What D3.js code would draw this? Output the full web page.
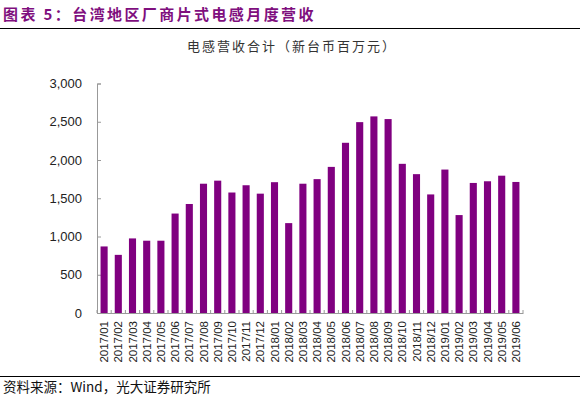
<!DOCTYPE html>
<html>
<head>
<meta charset="utf-8">
<script src="https://cdn.jsdelivr.net/npm/d3@7"></script>
<style>
  body { margin: 0; background: #fff; }
  svg { display: block; }
</style>
</head>
<body>
<div id="chart"></div>
<script>
const months = ["2017/01","2017/02","2017/03","2017/04","2017/05","2017/06","2017/07","2017/08","2017/09","2017/10","2017/11","2017/12",
  "2018/01","2018/02","2018/03","2018/04","2018/05","2018/06","2018/07","2018/08","2018/09","2018/10","2018/11","2018/12",
  "2019/01","2019/02","2019/03","2019/04","2019/05","2019/06"];
const revenue = [870, 760, 975, 945, 945, 1300, 1425, 1690, 1730, 1575, 1670, 1560,
  1710, 1175, 1690, 1750, 1910, 2225, 2495, 2570, 2535, 1950, 1815, 1550,
  1875, 1280, 1700, 1722, 1795, 1713];
const yTicks = [0, 500, 1000, 1500, 2000, 2500, 3000];

const W = 580, H = 399;
const margin = {top: 83.5, right: 57, bottom: 86, left: 97};
const width = W - margin.left - margin.right;
const height = H - margin.top - margin.bottom;

const svg = d3.select("#chart").append("svg")
  .attr("width", W)
  .attr("height", H);

// header
svg.append("text")
  .attr("x", 3).attr("y", 20)
  .attr("fill", "#7f0f7e")
  .attr("font-family", "Noto Sans CJK SC")
  .attr("font-weight", "bold")
  .attr("font-size", 15)
  .attr("letter-spacing", 2.4)
  .text("图表 5：台湾地区厂商片式电感月度营收");

svg.append("line")
  .attr("x1", 0).attr("x2", W)
  .attr("y1", 28.5).attr("y2", 28.5)
  .attr("stroke", "#000").attr("stroke-width", 1.2);

svg.append("text")
  .attr("x", 292).attr("y", 51)
  .attr("text-anchor", "middle")
  .attr("fill", "#333")
  .attr("font-family", "Noto Sans CJK SC")
  .attr("font-size", 13)
  .attr("letter-spacing", 2)
  .text("电感营收合计（新台币百万元）");

const g = svg.append("g")
  .attr("transform", "translate(" + margin.left + "," + margin.top + ")");

const x = d3.scaleBand()
  .domain(months)
  .range([0, width])
  .paddingInner(0.5)
  .paddingOuter(0.25);

const y = d3.scaleLinear()
  .domain([0, 3000])
  .range([height, 0]);

// y axis
const yAxis = g.append("g")
  .call(d3.axisLeft(y).tickValues(yTicks).tickSize(-4).tickPadding(15).tickFormat(d3.format(",")));
yAxis.select(".domain").attr("stroke", "#999");
yAxis.selectAll(".tick line").attr("stroke", "#999");
yAxis.selectAll("text")
  .attr("font-family", "'Liberation Sans', Arial")
  .attr("font-size", 13)
  .attr("fill", "#222");

// bars
g.selectAll("rect")
  .data(revenue)
  .join("rect")
  .attr("x", (d, i) => x(months[i]))
  .attr("y", d => y(d))
  .attr("width", x.bandwidth())
  .attr("height", d => height - y(d))
  .attr("fill", "#800080");

// x axis
const xAxis = g.append("g")
  .attr("transform", "translate(0," + height + ")")
  .call(d3.axisBottom(x).tickSize(0).tickPadding(0));
xAxis.select(".domain").attr("stroke", "#999");
xAxis.selectAll("text")
  .attr("font-family", "'Liberation Sans', Arial")
  .attr("font-size", 11.5)
  .attr("fill", "#222")
  .attr("text-anchor", "end")
  .attr("dy", null)
  .attr("transform", "translate(4,8) rotate(-90)");

// small ticks between bands
const step = x.step();
g.append("g")
  .selectAll("line")
  .data(d3.range(months.length + 1))
  .join("line")
  .attr("x1", i => x(months[0]) - step * 0.25 + i * step)
  .attr("x2", i => x(months[0]) - step * 0.25 + i * step)
  .attr("y1", height).attr("y2", height - 3)
  .attr("stroke", "#999");

// footer
svg.append("line")
  .attr("x1", 0).attr("x2", W)
  .attr("y1", 376.5).attr("y2", 376.5)
  .attr("stroke", "#000").attr("stroke-width", 1);

svg.append("text")
  .attr("x", 3).attr("y", 392)
  .attr("fill", "#111")
  .attr("font-family", "Noto Sans CJK SC")
  .attr("font-size", 13.5)
  .text("资料来源：Wind，光大证券研究所");
</script>
</body>
</html>
